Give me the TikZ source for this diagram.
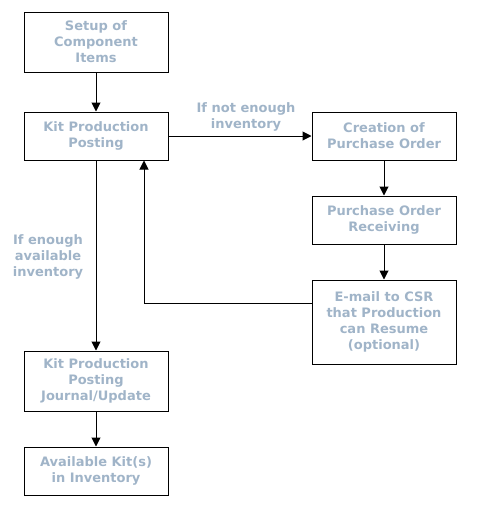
\documentclass[tikz,border=0pt]{standalone}
\usepackage{fontspec}
\setmainfont{DejaVu Sans}
\usetikzlibrary{arrows.meta}
\definecolor{txt}{RGB}{160,180,200}
\begin{document}
\begin{tikzpicture}[x=1pt,y=-1pt,
  box/.style={draw=black,line width=1pt,minimum width=144pt,inner sep=0pt,align=center,text=txt,font=\bfseries\fontsize{13}{16}\selectfont},
  lab/.style={align=center,text=txt,inner sep=0pt,font=\bfseries\fontsize{13}{16}\selectfont},
  arr/.style={line width=1pt,-{Triangle[width=9pt,length=9pt]}}]
\useasboundingbox (0,0) rectangle (480,528);
\node[box,minimum height=60pt] (b1) at (96,42) {Setup of\\Component\\Items};
\node[box,minimum height=48pt] (b2) at (96,136) {Kit Production\\Posting};
\node[box,minimum height=48pt] (b3) at (384,136) {Creation of\\Purchase Order};
\node[box,minimum height=48pt] (b4) at (384,220) {Purchase Order\\Receiving};
\node[box,minimum height=84pt] (b5) at (384,322) {E-mail to CSR\\that Production\\can Resume\\(optional)};
\node[box,minimum height=60pt] (b6) at (96,381) {Kit Production\\Posting\\Journal/Update};
\node[box,minimum height=48pt] (b7) at (96,471) {Available Kit(s)\\in Inventory};
\coordinate (bk) at (144,303);
\draw[arr] (b1) -- (b2);
\draw[arr] (b2) -- (b3);
\draw[arr] (b3) -- (b4);
\draw[arr] (b4) -- (b5);
\draw[arr] (b2) -- (b6);
\draw[arr] (b6) -- (b7);
\draw[arr] (b5.west |- bk) -| (b2.south -| bk);
\node[lab] (l1) at (246,117) {If not enough\\inventory};
\node[lab] (l2) at (48,257) {If enough\\available\\inventory};
\end{tikzpicture}
\end{document}
